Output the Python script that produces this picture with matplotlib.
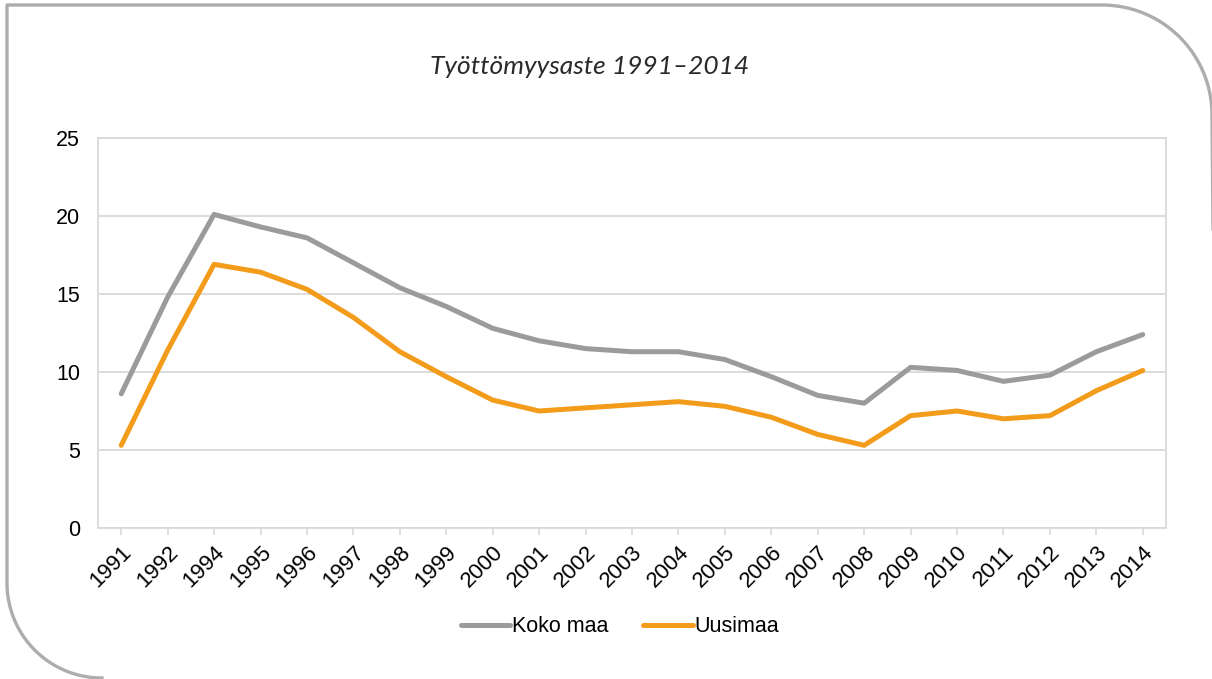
import matplotlib.pyplot as plt
import numpy as np
from matplotlib.lines import Line2D

# --- data ---
years = ["1991", "1992", "1994", "1995", "1996", "1997", "1998", "1999", "2000",
         "2001", "2002", "2003", "2004", "2005", "2006", "2007", "2008", "2009",
         "2010", "2011", "2012", "2013", "2014"]
koko_maa = [8.6, 14.8, 20.1, 19.3, 18.6, 17.0, 15.4, 14.2, 12.8, 12.0, 11.5, 11.3,
            11.3, 10.8, 9.7, 8.5, 8.0, 10.3, 10.1, 9.4, 9.8, 11.3, 12.4]
uusimaa = [5.3, 11.4, 16.9, 16.4, 15.3, 13.5, 11.3, 9.7, 8.2, 7.5, 7.7, 7.9,
           8.1, 7.8, 7.1, 6.0, 5.3, 7.2, 7.5, 7.0, 7.2, 8.8, 10.1]
y_ticks = [0, 5, 10, 15, 20, 25]

W, H = 1212, 679
GRID = "#d9d9d9"
FS = 15.5

fig = plt.figure(figsize=(W / 100, H / 100), dpi=100)
ax = fig.add_axes([98 / W, 1 - 528 / H, (1166 - 98) / W, (528 - 138) / H])

x = np.arange(len(years))
ax.plot(x, koko_maa, color="#9b9b9b", lw=3.6, solid_capstyle="round", label="Koko maa")
ax.plot(x, uusimaa, color="#f39c1b", lw=3.6, solid_capstyle="round", label="Uusimaa")

ax.set_xlim(-0.5, len(years) - 0.5)
ax.set_ylim(0, 25)
ax.set_yticks(y_ticks)
ax.set_xticks(x)
ax.set_xticklabels(years, rotation=45, ha="right", va="top", rotation_mode="anchor",
                   fontsize=16, family="Liberation Sans")
for lab in ax.get_yticklabels():
    lab.set_family("Liberation Sans")
    lab.set_fontsize(FS)
ax.tick_params(axis="y", length=0, pad=13)
ax.tick_params(axis="x", length=5, width=1.2, color=GRID, pad=5)
ax.grid(axis="y", color=GRID, lw=1.3)
ax.set_axisbelow(True)
for s in ax.spines.values():
    s.set_color(GRID)
    s.set_linewidth(1.3)

fig.text(590 / W, 1 - 67 / H, "Työttömyysaste 1991–2014", ha="center", va="center",
         fontsize=19, family="Lato", style="italic", color="#2a2a2a")

fig.legend(loc="center", bbox_to_anchor=(620 / W, 1 - 627 / H), ncol=2, frameon=False,
           prop={"family": "Liberation Sans", "size": FS}, handlelength=2.3,
           handletextpad=0.1, columnspacing=1.6)

# rounded outer frame (pixel coordinates -> figure fraction)
r1, r2 = 110, 95
left, top, right, bottom = 7, 5, 1212, 678
t = np.linspace(0, np.pi / 2, 40)
pts = [(right + 5, bottom + 5), (right, top + r1)]
pts += [(right - r1 + r1 * np.cos(a), top + r1 - r1 * np.sin(a)) for a in t]
pts += [(left, top), (left, bottom - r2)]
pts += [(left + r2 - r2 * np.cos(a), bottom - r2 + r2 * np.sin(a)) for a in t]
pts += [(left + r2, bottom)]
px = np.array(pts)
fig.add_artist(Line2D(px[:, 0] / W, 1 - px[:, 1] / H, transform=fig.transFigure,
                      color="#adadad", lw=2.4))

fig.savefig("out.png", dpi=100)
